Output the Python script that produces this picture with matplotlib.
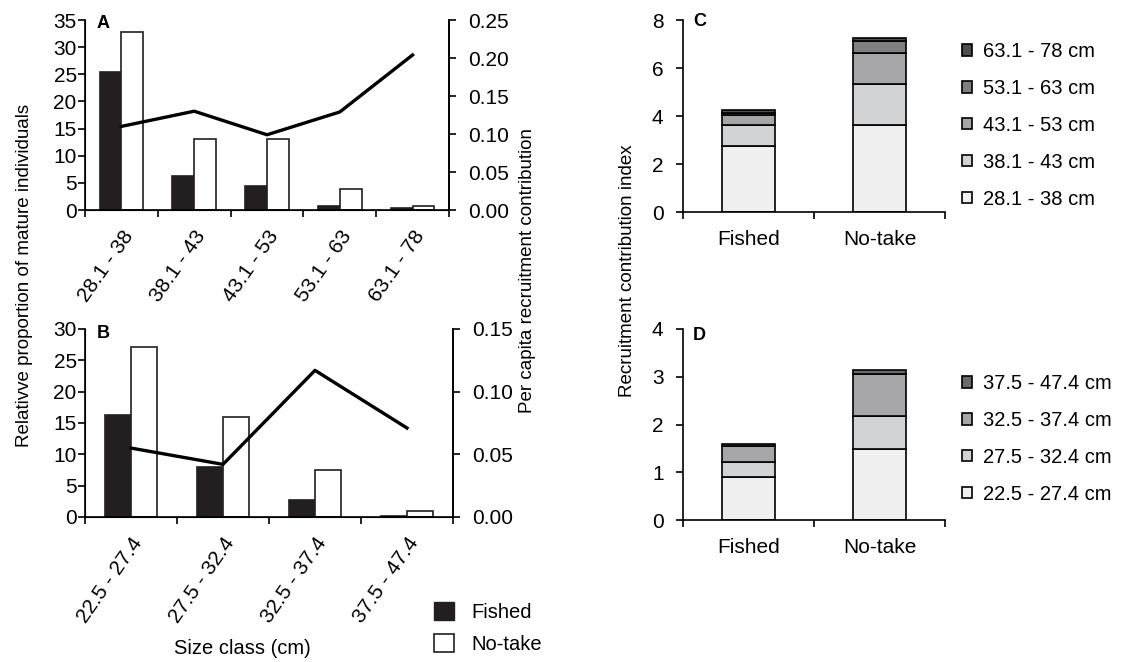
import matplotlib
matplotlib.use('Agg')
import matplotlib.pyplot as plt
import numpy as np
from matplotlib.patches import Patch

plt.rcParams['font.family'] = ['Liberation Sans', 'DejaVu Sans']

# Panel A data (size classes, relative proportion of mature individuals)
classes_a = ['28.1 - 38', '38.1 - 43', '43.1 - 53', '53.1 - 63', '63.1 - 78']
fished_a = [25.5, 6.2, 4.5, 0.8, 0.4]
notake_a = [32.8, 13.1, 13.1, 3.8, 0.7]
percap_a = [0.110, 0.130, 0.099, 0.129, 0.204]

# Panel B data
classes_b = ['22.5 - 27.4', '27.5 - 32.4', '32.5 - 37.4', '37.5 - 47.4']
fished_b = [16.3, 8.0, 2.7, 0.2]
notake_b = [27.1, 15.9, 7.5, 1.0]
percap_b = [0.055, 0.042, 0.117, 0.071]

# Panel C / D data (stacked recruitment contribution index)
groups = ['Fished', 'No-take']
legend_c = ['28.1 - 38 cm', '38.1 - 43 cm', '43.1 - 53 cm', '53.1 - 63 cm', '63.1 - 78 cm']
stack_c = [[2.75, 3.63], [0.87, 1.71], [0.44, 1.27], [0.08, 0.50], [0.10, 0.16]]
legend_d = ['22.5 - 27.4 cm', '27.5 - 32.4 cm', '32.5 - 37.4 cm', '37.5 - 47.4 cm']
stack_d = [[0.91, 1.48], [0.31, 0.69], [0.33, 0.89], [0.04, 0.08]]

colors_c = ['#f0f0f0', '#d2d3d5', '#a6a6a8', '#808080', '#4d4d4d']
colors_d = ['#f0f0f0', '#d2d3d5', '#a6a6a8', '#6a6a6a']

fs_tick = 15
fs_leg = 14.5
fs_lab = 13.5
W, H = 1129, 662
fig = plt.figure(figsize=(W / 100, H / 100), dpi=100)


def px_axes(l, t, r, b):
    return fig.add_axes([l / W, 1 - b / H, (r - l) / W, (b - t) / H])


def bar_panel(ax, cats, fished, notake, percap, ymax, ystep, rmax, rstep, bw, letter, ly):
    x = np.arange(len(cats))
    ax.bar(x - bw / 2, fished, bw, color='#231f20', edgecolor='#231f20', lw=1.2)
    ax.bar(x + bw / 2, notake, bw, color='white', edgecolor='#231f20', lw=1.2)
    ax.set_xlim(-0.5, len(cats) - 0.5)
    ax.set_ylim(0, ymax)
    ax.set_yticks(np.arange(0, ymax + 0.1, ystep))
    ax.set_xticks(x)
    ax.set_xticklabels(cats, rotation=55, ha='right', va='top', rotation_mode='anchor')
    ax.set_xticks(np.arange(-0.5, len(cats)), minor=True)
    ax.tick_params(axis='x', which='major', length=0, pad=12, labelsize=fs_tick)
    ax.tick_params(axis='x', which='minor', length=5, width=1.2, direction='out')
    ax.tick_params(axis='y', length=5, width=1.2, direction='out', labelsize=fs_tick, pad=1)
    ax.spines['top'].set_visible(False)
    for s in ['left', 'right', 'bottom']:
        ax.spines[s].set_linewidth(1.2)
    ax.text(0.033, ly, letter, transform=ax.transAxes, fontsize=13, fontweight='bold',
            va='top', ha='left')
    ax2 = ax.twinx()
    ax2.plot(x, percap, color='black', lw=2.4)
    ax2.set_ylim(0, rmax)
    ticks = np.arange(0, rmax + 1e-9, rstep)
    ax2.set_yticks(ticks)
    ax2.set_yticklabels(['%.2f' % v for v in ticks])
    ax2.tick_params(axis='y', length=5, width=1.2, direction='out', labelsize=fs_tick, pad=9)
    ax2.spines['top'].set_visible(False)
    ax2.spines['right'].set_linewidth(1.2)
    return ax2


ax_a = px_axes(85, 20, 449, 210)
bar_panel(ax_a, classes_a, fished_a, notake_a, percap_a, 35, 5, 0.25, 0.05, 0.3, 'A', 1.026)

ax_b = px_axes(85, 329, 453, 517)
bar_panel(ax_b, classes_b, fished_b, notake_b, percap_b, 30, 5, 0.15, 0.05, 0.28, 'B', 1.02)


def stack_panel(ax, stacks, colors, labels, ymax, letter, ly, leg_top):
    x = np.arange(len(groups))
    bottom = np.zeros(len(groups))
    handles = []
    for vals, c, lab in zip(stacks, colors, labels):
        ax.bar(x, vals, 0.4, bottom=bottom, color=c, edgecolor='black', lw=1.2)
        bottom += np.array(vals)
        handles.append(Patch(facecolor=c, edgecolor='black', lw=1.2, label=lab))
    ax.set_xlim(-0.5, 1.5)
    ax.set_ylim(0, ymax)
    ax.set_xticks(x)
    ax.set_xticklabels(groups)
    ax.set_xticks([-0.5, 0.5, 1.5], minor=True)
    ax.tick_params(axis='x', which='major', length=0, pad=13, labelsize=fs_tick)
    ax.tick_params(axis='x', which='minor', length=5, width=1.2, direction='out')
    ax.tick_params(axis='y', length=5, width=1.2, direction='out', labelsize=fs_tick, pad=9)
    for s in ['top', 'right']:
        ax.spines[s].set_visible(False)
    for s in ['left', 'bottom']:
        ax.spines[s].set_linewidth(1.2)
    ax.text(0.038, ly, letter, transform=ax.transAxes, fontsize=13, fontweight='bold',
            va='top', ha='left')
    fig.legend(handles=handles[::-1], loc='upper left',
               bbox_to_anchor=(962 / W, 1 - (leg_top + 2) / H),
               frameon=False, fontsize=fs_leg, handlelength=0.5, handleheight=0.5,
               handletextpad=0.55, labelspacing=0.89, borderaxespad=0, borderpad=0)


ax_c = px_axes(683, 20, 945, 212)
stack_panel(ax_c, stack_c, colors_c, legend_c, 8, 'C', 1.036, 40)
ax_c.set_yticks([0, 2, 4, 6, 8])

ax_d = px_axes(683, 329, 945, 520)
stack_panel(ax_d, stack_d, colors_d, legend_d, 4, 'D', 1.01, 372)
ax_d.set_yticks([0, 1, 2, 3, 4])

# shared axis labels
fig.text(25 / W, 1 - 275 / H, 'Relativve proportion of mature individuals', rotation=90,
         fontsize=fs_lab, ha='center', va='center')
fig.text(528 / W, 1 - 270 / H, 'Per capita recruitment contribution', rotation=90,
         fontsize=fs_lab, ha='center', va='center')
fig.text(242 / W, 1 - 648 / H, 'Size class (cm)', fontsize=fs_leg, ha='center', va='center')
fig.text(627 / W, 1 - 271 / H, 'Recruitment contribution index', rotation=90,
         fontsize=fs_lab, ha='center', va='center')

# Fished / No-take legend
leg_handles = [Patch(facecolor='#231f20', edgecolor='#231f20', label='Fished'),
               Patch(facecolor='white', edgecolor='#231f20', lw=1.2, label='No-take')]
fig.legend(handles=leg_handles, loc='upper left', bbox_to_anchor=(434 / W, 1 - 602 / H),
           frameon=False, fontsize=fs_leg, handlelength=1.0, handleheight=1.0,
           handletextpad=0.85, labelspacing=0.6, borderaxespad=0, borderpad=0)

fig.savefig('out.png', dpi=100)
